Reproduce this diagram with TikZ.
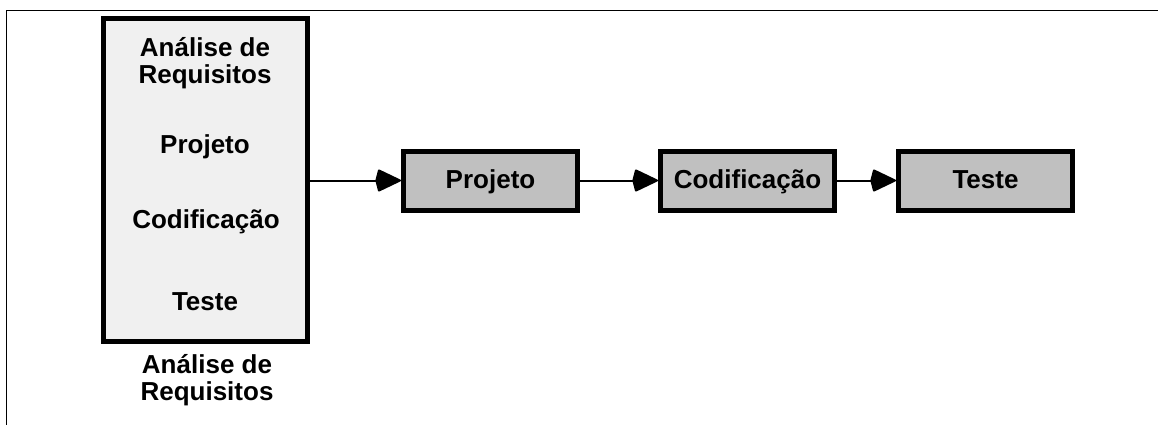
\documentclass[tikz,border=0pt]{standalone}
\usepackage{fontspec}
\setmainfont{Liberation Sans}
\usetikzlibrary{arrows.meta}
\definecolor{bigfill}{HTML}{F0F0F0}
\definecolor{smallfill}{HTML}{C0C0C0}
\begin{document}
\begin{tikzpicture}[x=1pt,y=-1pt,
  lbl/.style={font=\fontsize{26}{26.7}\selectfont\bfseries, inner sep=0pt, align=center},
  bigbox/.style={draw=black, line width=5pt, fill=bigfill, minimum width=204pt, minimum height=322pt, inner sep=0pt},
  phasebox/.style={draw=black, line width=5pt, fill=smallfill, minimum width=174pt, minimum height=59pt, inner sep=0pt,
    font=\fontsize{26}{27}\selectfont\bfseries, text height=19pt, text depth=4pt},
  flow/.style={line width=2pt, -{Kite[length=27pt,width=23pt,inset=3pt,round]}},
  frame/.style={line width=1pt}
]
\useasboundingbox (0,0) rectangle (1158,425);
\coordinate (fr1) at (6.5,425);
\coordinate (fr2) at (6.5,10.5);
\coordinate (fr3) at (1158,10.5);
\draw[frame] (fr1) -- (fr2) -- (fr3);

\node[bigbox] (big) at (205.5,180) {};
\node[lbl, anchor=base] (t1) at (205,83.4) {Análise de\\Requisitos};
\node[lbl, anchor=base] (t2) at (205,153.3) {Projeto};
\node[lbl, anchor=base] (t3) at (206,228.3) {Codificação};
\node[lbl, anchor=base] (t4) at (205,310.7) {Teste};
\node[lbl, anchor=base] (cap) at (207,400) {Análise de\\Requisitos};

\node[phasebox] (proj) at (490.5,181) {Projeto};
\node[phasebox] (cod) at (747.5,181) {Codificação};
\node[phasebox] (tes) at (985.5,181) {Teste};

\draw[flow] (big.east |- 0,180.5) -- (proj.west |- 0,180.5);
\draw[flow] (proj.east |- 0,180.5) -- (cod.west |- 0,180.5);
\draw[flow] (cod.east |- 0,180.5) -- (tes.west |- 0,180.5);
\end{tikzpicture}
\end{document}
